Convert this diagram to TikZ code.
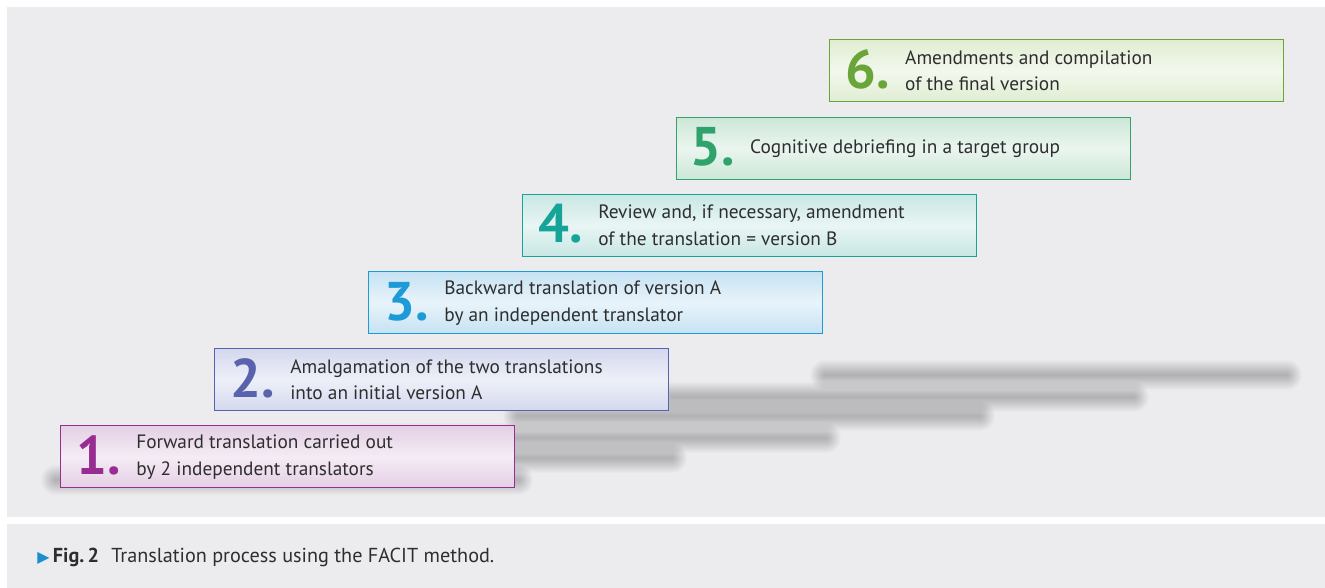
\documentclass[tikz,border=0pt]{standalone}
\usepackage{fontspec}
\setmainfont{PT Sans}
\newfontfamily\symfont{DejaVu Sans}
\usetikzlibrary{positioning}

\definecolor{panel}{HTML}{ECECEE}
\definecolor{textgray}{HTML}{2E2E2E}
\definecolor{capblue}{HTML}{1A8ED0}
\definecolor{stepA}{HTML}{972C91}\definecolor{fillA}{HTML}{E4CFE5}
\definecolor{stepB}{HTML}{5962AD}\definecolor{fillB}{HTML}{D4D8EE}
\definecolor{stepC}{HTML}{1C9BD7}\definecolor{fillC}{HTML}{C6E2F3}
\definecolor{stepD}{HTML}{16A398}\definecolor{fillD}{HTML}{C8E7E4}
\definecolor{stepE}{HTML}{2FA36B}\definecolor{fillE}{HTML}{CCE7D7}
\definecolor{stepF}{HTML}{6AA53A}\definecolor{fillF}{HTML}{E0EDD2}

\begin{document}
\begin{tikzpicture}[x=0.02cm,y=-0.02cm,
  stepbox/.style 2 args={draw=#1,line width=0.8pt,top color=#2,bottom color=#2,
    middle color=white!60!#2,minimum width=9.08cm,minimum height=1.24cm,
    inner sep=0pt,anchor=north west},
  stepnum/.style={text=#1,font=\fontsize{31}{31}\selectfont\bfseries,
    inner sep=0pt,anchor=base west},
  steptext/.style={text=textgray,font=\fontsize{11}{15.3}\selectfont,
    align=left,inner sep=0pt},
  floor/.style={line cap=round,black,opacity=0.015}]

  % page and panels
  \fill[white] (0,0) rectangle (1325,588);
  \useasboundingbox (0,0) rectangle (1325,588);
  \fill[panel] (7,7) rectangle (1325,517);
  \fill[panel] (7,524) rectangle (1325,588);

  % blurred floor shadows
  \foreach \lx/\sy in {60/480,214/458,368/438,522/416,676/397,829/375}
    \foreach \w in {0.04,0.08,...,0.64}
      \draw[floor,line width=\w cm] (\lx-4,\sy) -- (\lx+458,\sy);

  % steps
  \node[stepbox={stepA}{fillA}] (s1) at (60,425) {};
  \node[stepbox={stepB}{fillB}] (s2) at ([xshift=3.08cm,yshift=1.54cm]s1.north west) {};
  \node[stepbox={stepC}{fillC}] (s3) at ([xshift=3.08cm,yshift=1.54cm]s2.north west) {};
  \node[stepbox={stepD}{fillD}] (s4) at ([xshift=3.08cm,yshift=1.55cm]s3.north west) {};
  \node[stepbox={stepE}{fillE}] (s5) at ([xshift=3.08cm,yshift=1.54cm]s4.north west) {};
  \node[stepbox={stepF}{fillF}] (s6) at ([xshift=3.06cm,yshift=1.55cm]s5.north west) {};

  \node[stepnum=stepA] (n1) at ([xshift=0.32cm,yshift=-0.35cm]s1.west) {1.};
  \node[stepnum=stepB] (n2) at ([xshift=0.32cm,yshift=-0.35cm]s2.west) {2.};
  \node[stepnum=stepC] (n3) at ([xshift=0.32cm,yshift=-0.35cm]s3.west) {3.};
  \node[stepnum=stepD] (n4) at ([xshift=0.32cm,yshift=-0.35cm]s4.west) {4.};
  \node[stepnum=stepE] (n5) at ([xshift=0.28cm,yshift=-0.35cm]s5.west) {5.};
  \node[stepnum=stepF] (n6) at ([xshift=0.32cm,yshift=-0.35cm]s6.west) {6.};

  \node[steptext,right=1.52cm of s1.west] (t1) {Forward translation carried out\\by 2 independent translators};
  \node[steptext,right=1.52cm of s2.west] (t2) {Amalgamation of the two translations\\into an initial version A};
  \node[steptext,right=1.52cm of s3.west] (t3) {Backward translation of version A\\by an independent translator};
  \node[steptext,right=1.52cm of s4.west] (t4) {Review and, if necessary, amendment\\of the translation = version B};
  \node[steptext,right=1.48cm of s5.west] (t5) {Cognitive debriefing in a target group};
  \node[steptext,right=1.52cm of s6.west] (t6) {Amendments and compilation\\of the final version};

  % caption
  \node[steptext,anchor=west,font=\fontsize{11.5}{14}\selectfont] (cap) at (37,557)
    {{\symfont\fontsize{9}{9}\selectfont\textcolor{capblue}{▶}}\,\textbf{Fig.\,2}\hspace{0.6em}Translation process using the FACIT method.};
\end{tikzpicture}
\end{document}
